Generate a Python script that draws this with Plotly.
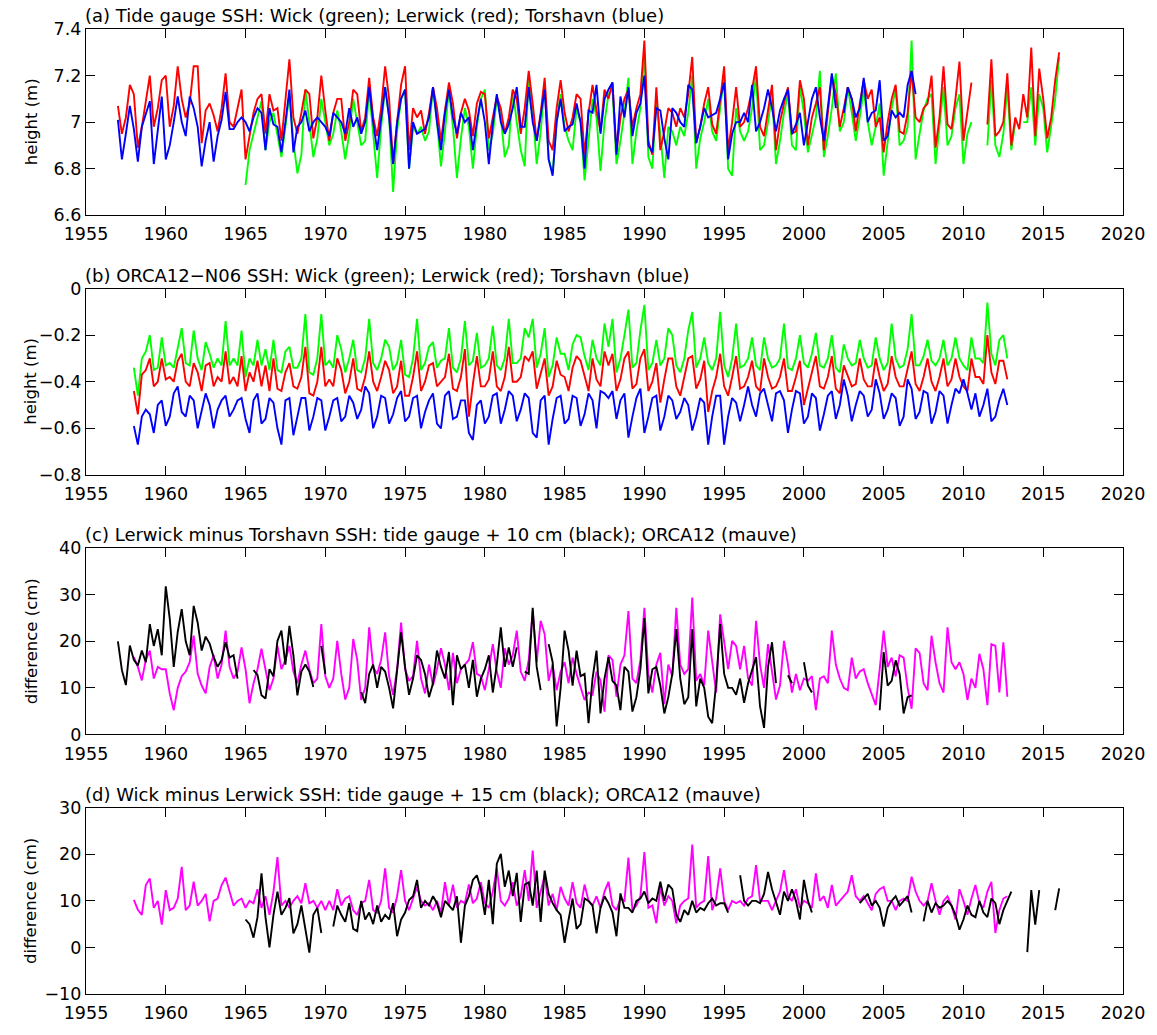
import plotly.graph_objects as go

# ---------------- DATA (quarterly samples) ----------------
years_ticks = [1955, 1960, 1965, 1970, 1975, 1980, 1985, 1990, 1995, 2000, 2005, 2010, 2015, 2020]
year_labels = [str(y) for y in years_ticks]

a_ticks = [6.6, 6.8, 7.0, 7.2, 7.4]
a_labels = ["6.6", "6.8", "7", "7.2", "7.4"]
b_ticks = [-0.8, -0.6, -0.4, -0.2, 0.0]
b_labels = ["\u22120.8", "\u22120.6", "\u22120.4", "\u22120.2", "0"]
c_ticks = [0, 10, 20, 30, 40]
c_labels = ["0", "10", "20", "30", "40"]
d_ticks = [-10, 0, 10, 20, 30]
d_labels = ["\u221210", "0", "10", "20", "30"]

step = 0.25  # quarterly samples

# (a) tide gauge SSH (m)
a_red_start = 1957.0
a_red = [
    7.07, 6.95, 7.02, 7.16,  7.12, 6.89, 6.98, 7.10,  7.20, 6.98, 7.06, 7.18,  7.20, 6.98, 7.07, 7.24,
    7.10, 7.02, 7.08, 7.24,  7.24, 6.91, 7.05, 7.08,  7.03, 6.96, 7.06, 7.21,  7.00, 6.98, 7.06, 7.14,
    6.84, 6.95, 7.04, 7.10,  7.12, 6.95, 7.12, 7.05,  7.06, 6.92, 7.10, 7.27,  7.02, 6.95, 7.04, 7.14,
    7.12, 6.93, 7.02, 7.20,  7.05, 6.92, 7.04, 7.10,  7.10, 6.92, 7.00, 7.14,  7.12, 6.96, 7.02, 7.19,
    7.02, 6.94, 7.06, 7.24,  7.10, 6.82, 7.00, 7.16,  7.24, 6.88, 7.06, 7.02,  7.05, 6.95, 7.04, 7.15,
    7.06, 6.92, 7.05, 7.17,  7.08, 6.93, 7.04, 7.10,  7.05, 6.94, 7.08, 7.13,  7.12, 6.93, 7.02, 7.11,
    7.06, 6.95, 7.02, 7.14,  7.10, 6.95, 7.06, 7.22,  7.08, 6.92, 7.04, 7.19,  6.92, 6.88, 7.06, 7.18,
    7.04, 6.96, 7.02, 7.12,  7.10, 6.86, 7.04, 7.16,  7.05, 6.96, 7.14, 7.10,  7.17, 6.87, 7.02, 7.10,
    7.14, 6.98, 7.06, 7.12,  7.35, 6.92, 6.86, 7.15,  6.88, 6.96, 7.06, 7.04,  6.98, 7.06, 7.02, 7.12,
    7.28, 6.91, 6.98, 7.08,  7.15, 6.99, 6.95, 7.10,  7.24, 6.88, 7.00, 7.15,  6.98, 7.00, 7.06, 7.14,
    7.24, 6.98, 6.94, 7.05,  7.16, 6.88, 7.00, 7.08,  7.15, 6.95, 6.96, 7.18,  7.10, 6.90, 7.02, 7.08,
    7.15, 6.88, 7.04, 7.20,  7.12, 6.98, 7.06, 7.15,  7.10, 6.96, 7.08, 7.18,  7.10, 7.14, 6.98, 7.02,
    6.87, 7.00, 7.10, 7.16,  6.96, 6.95, 7.04, 7.22,  7.02, 7.00, 7.06, 7.08,  7.20, 6.89, 7.02, 7.24,
    6.99, 6.97, 7.10, 7.26,  6.92, 7.04, 7.17, None,  None, None, 6.99, 7.27,  6.94, 6.96, 7.00, 7.21,
    6.90, 7.02, 6.97, 7.12,  7.02, 7.32, 6.94, 7.23,  7.10, 6.93, 7.02, 7.18,  7.30,
]
a_green_start = 1965.0
a_green = [
    6.73, 6.88, 6.95, 7.02,  7.09, 6.88, 7.00, 7.04,  6.95, 6.85, 6.98, 7.12,  6.92, 6.78, 6.86, 7.14,
    7.00, 6.85, 6.93, 7.10,  7.00, 6.90, 6.95, 7.05,  6.96, 6.84, 6.95, 7.10,  7.00, 6.90, 6.92, 7.14,
    6.95, 6.76, 6.98, 7.15,  7.02, 6.70, 6.96, 7.10,  7.14, 6.80, 6.98, 6.95,  6.98, 6.92, 6.96, 7.15,
    7.00, 6.81, 6.96, 7.14,  6.98, 6.76, 6.93, 7.06,  6.98, 6.80, 6.98, 7.10,  7.14, 6.88, 6.95, 7.10,
    7.02, 6.85, 6.90, 7.14,  7.00, 6.88, 6.81, 7.20,  7.05, 6.82, 6.96, 7.16,  6.84, 6.78, 7.00, 7.12,
    6.98, 6.92, 6.88, 7.06,  7.00, 6.75, 6.92, 7.10,  7.02, 6.79, 7.00, 7.12,  7.14, 6.82, 6.92, 7.04,
    7.19, 6.82, 6.96, 7.06,  7.30, 6.85, 6.80, 7.10,  6.95, 6.76, 6.98, 6.96,  6.90, 6.98, 6.94, 7.04,
    7.20, 6.80, 6.93, 7.00,  7.10, 6.96, 6.92, 7.06,  7.20, 6.80, 6.77, 7.06,  6.96, 6.92, 6.96, 7.06,
    7.20, 6.88, 6.90, 7.00,  7.12, 6.82, 6.92, 7.04,  7.12, 6.90, 6.88, 7.15,  7.04, 6.87, 6.95, 7.02,
    7.22, 6.85, 6.94, 7.06,  7.21, 6.96, 7.00, 7.15,  7.04, 6.92, 7.02, 7.14,  7.00, 6.90, 6.98, 7.08,
    6.77, 6.92, 7.06, 7.14,  6.90, 6.92, 6.98, 7.35,  6.84, 6.95, 7.05, 7.10,  7.12, 6.82, 6.98, 7.15,
    6.90, 6.94, 7.06, 7.12,  6.82, 6.95, 7.00, None,  None, None, 6.90, 7.18,  6.90, 6.85, 6.95, 7.15,
    6.88, 7.00, None, 7.00,  7.00, 7.15, 6.90, 7.12,  7.06, 6.87, 6.98, 7.10,  7.28,
]
a_blue_start = 1957.0
a_blue = [
    7.01, 6.84, 6.95, 7.07,  6.97, 6.83, 6.98, 7.04,  7.09, 6.82, 6.98, 7.11,  6.84, 6.90, 7.00, 7.11,
    7.00, 6.94, 7.11, 7.06,  6.98, 6.81, 6.92, 7.00,  6.83, 6.94, 7.01, 7.13,  6.97, 6.97, 7.00, 7.02,
    7.00, 6.96, 7.02, 7.06,  7.04, 6.88, 7.06, 6.99,  6.98, 6.87, 7.00, 7.14,  6.87, 6.98, 7.00, 7.05,
    6.96, 7.00, 7.02, 7.00,  6.98, 6.94, 7.04, 7.02,  7.00, 6.95, 7.06, 6.98,  7.02, 6.95, 7.00, 7.15,
    7.00, 6.88, 7.01, 7.15,  7.02, 6.82, 7.00, 7.10,  7.14, 6.80, 7.00, 6.95,  6.96, 6.97, 7.02, 7.15,
    7.00, 6.88, 7.04, 7.14,  7.02, 6.95, 7.04, 7.00,  7.02, 6.88, 7.00, 7.10,  7.00, 6.82, 6.99, 7.12,
    7.00, 6.95, 6.99, 7.06,  7.15, 6.98, 6.98, 7.15,  7.00, 6.92, 7.03, 7.14,  6.84, 6.77, 7.00, 7.10,
    6.96, 6.98, 6.99, 7.08,  7.00, 6.80, 7.05, 7.04,  7.16, 6.95, 7.10, 7.14,  7.17, 6.86, 7.11, 7.02,
    7.15, 6.94, 7.04, 7.08,  7.20, 6.90, 6.87, 7.06,  7.05, 6.93, 6.84, 7.06,  7.04, 7.00, 6.98, 7.16,
    7.14, 6.91, 6.98, 7.06,  7.02, 7.03, 7.04, 7.10,  7.17, 6.84, 6.95, 7.00,  7.00, 7.04, 7.00, 7.16,
    6.96, 7.00, 7.06, 7.14,  7.06, 6.96, 7.05, 7.10,  7.14, 6.95, 6.99, 7.04,  6.90, 7.00, 7.10, 7.15,
    7.02, 6.92, 7.06, 7.21,  7.06, None, 7.04, 7.15,  7.10, 7.02, 7.06, 7.19,  7.00, 7.04, 7.05, 7.18,
    6.92, 6.94, 7.05, 7.02,  7.04, 7.02, 7.16, 7.22,  7.12,
]

# (b) ORCA12-N06 SSH (m)
b_start = 1958.0
b_green = [
    -0.34, -0.46, -0.30, -0.27,  -0.20, -0.35, -0.34, -0.21,  -0.33, -0.32, -0.34, -0.25,  -0.17, -0.32, -0.33, -0.18,
    -0.30, -0.35, -0.23, -0.28,  -0.34, -0.30, -0.33, -0.14,  -0.33, -0.30, -0.33, -0.18,  -0.38, -0.30, -0.33, -0.22,
    -0.33, -0.26, -0.35, -0.22,  -0.35, -0.36, -0.27, -0.25,  -0.34, -0.34, -0.30, -0.11,  -0.36, -0.37, -0.30, -0.11,
    -0.33, -0.31, -0.34, -0.20,  -0.26, -0.36, -0.30, -0.22,  -0.35, -0.36, -0.30, -0.13,  -0.32, -0.35, -0.30, -0.22,
    -0.25, -0.35, -0.32, -0.22,  -0.37, -0.38, -0.30, -0.13,  -0.35, -0.32, -0.25, -0.23,  -0.34, -0.31, -0.30, -0.17,
    -0.34, -0.36, -0.30, -0.14,  -0.33, -0.31, -0.19, -0.34,  -0.33, -0.30, -0.16, -0.33,  -0.35, -0.30, -0.13, -0.32,
    -0.32, -0.30, -0.17, -0.21,  -0.13, -0.34, -0.28, -0.17,  -0.38, -0.33, -0.21, -0.28,  -0.28, -0.35, -0.24, -0.20,
    -0.21, -0.29, -0.35, -0.22,  -0.30, -0.33, -0.15, -0.25,  -0.13, -0.36, -0.30, -0.20,  -0.09, -0.34, -0.32, -0.18,
    -0.07, -0.35, -0.32, -0.22,  -0.33, -0.30, -0.17, -0.20,  -0.33, -0.36, -0.30, -0.18,  -0.10, -0.34, -0.30, -0.21,
    -0.32, -0.35, -0.30, -0.10,  -0.33, -0.38, -0.30, -0.15,  -0.34, -0.33, -0.30, -0.21,  -0.33, -0.35, -0.21, -0.30,
    -0.34, -0.33, -0.30, -0.15,  -0.34, -0.35, -0.30, -0.20,  -0.32, -0.34, -0.28, -0.19,  -0.33, -0.34, -0.30, -0.20,
    -0.34, -0.36, -0.24, -0.30,  -0.33, -0.32, -0.22, -0.30,  -0.34, -0.33, -0.21, -0.30,  -0.35, -0.32, -0.15, -0.30,
    -0.34, -0.33, -0.26, -0.11,  -0.33, -0.33, -0.29, -0.22,  -0.31, -0.33, -0.30, -0.22,  -0.33, -0.30, -0.21, -0.30,
    -0.33, -0.35, -0.21, -0.30,  -0.30, -0.32, -0.06, -0.28,  -0.33, -0.22, -0.20, -0.30,
]
b_red = [
    -0.44, -0.54, -0.37, -0.35,  -0.30, -0.42, -0.40, -0.30,  -0.39, -0.38, -0.40, -0.31,  -0.28, -0.40, -0.42, -0.32,
    -0.36, -0.44, -0.33, -0.32,  -0.42, -0.38, -0.40, -0.27,  -0.41, -0.38, -0.42, -0.29,  -0.44, -0.36, -0.40, -0.31,
    -0.42, -0.33, -0.44, -0.30,  -0.43, -0.44, -0.36, -0.32,  -0.42, -0.43, -0.38, -0.25,  -0.45, -0.46, -0.40, -0.25,
    -0.42, -0.39, -0.42, -0.30,  -0.35, -0.45, -0.40, -0.30,  -0.43, -0.44, -0.38, -0.27,  -0.40, -0.44, -0.38, -0.31,
    -0.35, -0.45, -0.42, -0.31,  -0.46, -0.46, -0.38, -0.27,  -0.44, -0.40, -0.33, -0.32,  -0.42, -0.40, -0.38, -0.28,
    -0.43, -0.44, -0.38, -0.26,  -0.55, -0.41, -0.29, -0.42,  -0.42, -0.39, -0.27, -0.42,  -0.44, -0.38, -0.25, -0.40,
    -0.40, -0.38, -0.29, -0.31,  -0.27, -0.43, -0.37, -0.30,  -0.46, -0.42, -0.31, -0.37,  -0.38, -0.44, -0.34, -0.29,
    -0.31, -0.38, -0.44, -0.30,  -0.39, -0.42, -0.27, -0.33,  -0.28, -0.44, -0.39, -0.30,  -0.27, -0.43, -0.41, -0.30,
    -0.26, -0.44, -0.40, -0.32,  -0.49, -0.39, -0.30, -0.30,  -0.42, -0.46, -0.38, -0.30,  -0.29, -0.43, -0.39, -0.31,
    -0.53, -0.44, -0.38, -0.28,  -0.42, -0.46, -0.38, -0.29,  -0.43, -0.42, -0.38, -0.31,  -0.42, -0.44, -0.30, -0.38,
    -0.43, -0.42, -0.38, -0.30,  -0.44, -0.44, -0.38, -0.31,  -0.50, -0.43, -0.37, -0.29,  -0.42, -0.43, -0.38, -0.29,
    -0.43, -0.45, -0.33, -0.38,  -0.42, -0.41, -0.30, -0.39,  -0.42, -0.42, -0.30, -0.38,  -0.44, -0.41, -0.29, -0.38,
    -0.42, -0.42, -0.35, -0.27,  -0.41, -0.44, -0.38, -0.30,  -0.40, -0.44, -0.38, -0.30,  -0.42, -0.39, -0.30, -0.38,
    -0.42, -0.44, -0.30, -0.38,  -0.38, -0.41, -0.20, -0.36,  -0.41, -0.31, -0.31, -0.39,
]
b_blue = [
    -0.59, -0.67, -0.55, -0.52,  -0.54, -0.62, -0.50, -0.48,  -0.59, -0.55, -0.45, -0.42,  -0.53, -0.55, -0.46, -0.48,
    -0.60, -0.52, -0.45, -0.50,  -0.60, -0.52, -0.48, -0.46,  -0.55, -0.52, -0.48, -0.47,  -0.56, -0.62, -0.48, -0.45,
    -0.58, -0.56, -0.47, -0.49,  -0.60, -0.67, -0.48, -0.47,  -0.63, -0.55, -0.47, -0.47,  -0.61, -0.55, -0.47, -0.48,
    -0.61, -0.55, -0.48, -0.47,  -0.57, -0.55, -0.46, -0.49,  -0.56, -0.52, -0.42, -0.45,  -0.60, -0.55, -0.46, -0.47,
    -0.58, -0.54, -0.47, -0.44,  -0.57, -0.55, -0.47, -0.46,  -0.60, -0.53, -0.48, -0.45,  -0.58, -0.60, -0.46, -0.44,
    -0.56, -0.55, -0.48, -0.48,  -0.62, -0.65, -0.50, -0.48,  -0.58, -0.55, -0.46, -0.45,  -0.58, -0.52, -0.44, -0.46,
    -0.57, -0.52, -0.45, -0.47,  -0.62, -0.64, -0.48, -0.46,  -0.67, -0.56, -0.47, -0.46,  -0.58, -0.56, -0.46, -0.47,
    -0.59, -0.54, -0.45, -0.48,  -0.60, -0.44, -0.45, -0.47,  -0.44, -0.56, -0.48, -0.45,  -0.64, -0.55, -0.47, -0.43,
    -0.62, -0.55, -0.47, -0.46,  -0.61, -0.55, -0.46, -0.48,  -0.56, -0.53, -0.47, -0.50,  -0.61, -0.55, -0.47, -0.49,
    -0.67, -0.55, -0.46, -0.46,  -0.67, -0.55, -0.47, -0.49,  -0.57, -0.50, -0.42, -0.50,  -0.55, -0.45, -0.43, -0.50,
    -0.57, -0.45, -0.44, -0.48,  -0.62, -0.52, -0.44, -0.45,  -0.58, -0.55, -0.45, -0.47,  -0.61, -0.54, -0.46, -0.44,
    -0.56, -0.50, -0.39, -0.46,  -0.57, -0.50, -0.44, -0.46,  -0.55, -0.52, -0.39, -0.45,  -0.56, -0.52, -0.45, -0.47,
    -0.59, -0.55, -0.39, -0.43,  -0.56, -0.53, -0.44, -0.45,  -0.58, -0.53, -0.44, -0.46,  -0.58, -0.50, -0.43, -0.45,
    -0.39, -0.45, -0.52, -0.45,  -0.55, -0.50, -0.43, -0.57,  -0.55, -0.48, -0.43, -0.50,
]

# (c) Lerwick minus Torshavn (cm)
c_black_start = 1957.0
c_black = [
    20.0, 13.8, 10.6, 19.1,  16.0, 14.8, 18.0, 15.5,  23.7, 19.0, 22.6, 17.0,  31.8, 24.8, 14.5, 22.0,
    26.9, 20.0, 17.0, 27.6,  24.0, 18.0, 21.0, 19.5,  16.6, 14.5, 16.0, 19.8,  16.5, 17.0, 12.0, None,
    None, None, 13.8, 12.8,  8.4, 7.7, 14.0, 12.5,  20.1, 22.3, 15.0, 23.3,  17.0, 8.4, 13.5, 15.0,
    13.5, 10.2, None, 19.0,  13.0, None, None, None,  None, None, None, None,  None, 9.1, 6.7, 13.0,
    15.0, 10.0, 14.5, 13.5,  10.0, 5.6, 14.0, 21.9,  14.5, 8.5, 12.0, 17.0,  16.0, 13.0, 8.0, 11.0,
    18.0, 14.5, 12.0, 17.7,  6.3, 17.0, 14.0, 15.0,  10.0, 16.0, 8.1, 12.0,  14.0, 17.0, 9.0, 15.0,
    23.0, 14.5, 18.7, 14.5,  18.7, None, 13.5, 13.0,  27.2, 14.5, 9.5, None,  19.4, 15.5, 1.7, 10.0,
    22.3, 18.0, 10.5, 18.0,  12.5, 13.0, 2.4, 12.0,  18.0, 4.5, 12.0, 16.6,  11.5, 10.5, 5.2, 14.5,
    13.5, 4.9, 8.0, 14.0,  25.0, 8.8, 14.0, 14.5,  10.5, 4.5, 8.0, 13.0,  22.6, 12.0, 6.5, 8.0,
    22.6, 6.0, 12.0, 10.0,  3.8, 2.4, 11.0, 23.7,  13.0, 10.0, 10.0, 8.5,  12.0, 6.8, 11.0, 14.0,
    16.6, 6.0, 1.4, 14.5,  19.8, 11.0, None, None,  12.7, 11.0, None, None,  15.5, 10.5, 9.0, None,
    None, 8.0, None, None,  None, None, None, None,  None, None, None, 8.5,  None, None, None, 5.2,
    17.7, 10.5, 11.5, 15.9,  13.0, 4.5, 8.0, 8.4,
]
c_mauve_start = 1958.0
c_mauve = [
    16.6, 14.5, 11.6, 16.0,  18.0, 12.0, 14.5, 14.0,  14.0, 8.8, 5.2, 10.0,  12.5, 13.5, 15.5, 21.2,
    13.0, 10.5, 8.8, 14.5,  17.0, 12.0, 15.0, 22.3,  14.5, 12.0, 13.5, 18.7,  14.0, 6.7, 11.0, 14.0,
    18.4, 14.0, 9.5, 12.0,  19.0, 14.0, 16.0, 19.0,  13.5, 11.0, 15.0, 18.0,  14.0, 11.0, 12.0, 23.7,
    12.5, 10.0, 12.0, 20.1,  13.0, 7.5, 10.0, 20.5,  16.0, 7.4, 10.0, 23.0,  14.5, 13.0, 16.0, 21.9,
    12.5, 8.5, 14.0, 24.0,  14.0, 11.5, 12.5, 20.1,  12.0, 8.8, 15.0, 10.5,  14.0, 18.5, 15.0, 9.5,
    17.5, 11.0, 14.0, 15.0,  16.0, 19.8, 13.0, 12.5,  9.5, 14.0, 19.4, 13.5,  10.0, 18.5, 15.0, 17.0,
    22.3, 13.5, 11.5, 16.0,  26.5, 15.5, 24.4, 21.5,  11.5, 15.0, 9.5, 13.5,  15.5, 11.0, 16.5, 13.0,
    10.0, 7.4, 9.0, 8.5,  13.5, 11.6, 4.9, 17.0,  16.0, 8.1, 15.0, 17.0,  26.5, 12.0, 11.0, 16.0,
    27.2, 13.0, 9.0, 15.0,  17.5, 6.5, 15.0, 12.5,  27.2, 15.0, 13.0, 14.0,  29.4, 11.5, 13.0, 10.5,
    22.3, 16.0, 9.0, 25.8,  19.5, 14.0, 20.1, 19.0,  14.0, 19.0, 12.0, 10.5,  24.4, 15.0, 10.0, 19.4,
    13.5, 7.5, 10.5, 20.1,  15.0, 9.0, 13.0, 9.5,  12.0, 11.5, 12.5, 5.2,  12.0, 12.5, 11.0, 22.3,
    15.0, 12.0, 10.0, 9.5,  16.5, 12.0, 13.5, 14.0,  11.0, 8.5, 6.3, 14.0,  22.3, 14.5, 16.5, 12.5,
    17.0, 16.5, 10.0, 5.5,  18.5, 17.5, 11.0, 9.5,  21.2, 15.5, 11.0, 9.0,  23.0, 15.5, 14.0, 15.5,
    13.0, 7.4, 12.0, 10.0,  17.3, 14.0, 6.3, 19.4,  19.0, 9.0, 19.8, 8.1,
]

# (d) Wick minus Lerwick (cm)
d_mauve_start = 1958.0
d_mauve = [
    10.2, 8.1, 7.0, 13.4,  14.8, 8.5, 10.0, 4.9,  12.3, 8.0, 8.5, 10.5,  17.3, 8.0, 9.0, 14.1,
    9.0, 10.0, 11.5, 5.6,  10.0, 10.5, 13.4, 15.0,  12.0, 9.0, 10.0, 10.5,  8.5, 10.0, 9.5, 12.5,
    8.5, 11.0, 7.0, 12.0,  19.4, 9.0, 10.0, 8.5,  10.0, 11.0, 9.5, 13.8,  9.5, 10.0, 8.5, 10.0,
    8.0, 10.0, 8.0, 12.5,  9.0, 10.5, 11.0, 8.0,  7.0, 9.5, 10.0, 14.5,  8.0, 7.5, 10.0, 17.0,
    8.5, 7.5, 11.0, 16.6,  10.0, 8.0, 10.5, 13.0,  10.0, 9.0, 9.5, 8.0,  10.0, 7.5, 14.0, 9.0,
    13.5, 8.5, 10.0, 9.5,  13.5, 9.5, 10.5, 14.0,  9.5, 8.5, 12.0, 17.0,  10.0, 9.0, 10.5, 14.0,
    9.0, 11.0, 16.6, 10.0,  20.8, 8.5, 12.0, 15.5,  9.0, 11.5, 8.0, 13.0,  10.5, 9.0, 14.0, 9.5,
    8.5, 13.5, 10.0, 9.0,  11.0, 8.5, 12.0, 14.1,  9.0, 8.0, 10.5, 10.0,  19.3, 8.0, 9.0, 11.0,
    20.5, 8.5, 9.0, 5.2,  13.0, 9.0, 11.0, 10.0,  5.2, 9.0, 10.0, 10.5,  22.1, 8.5, 9.5, 10.0,
    19.6, 8.0, 10.5, 17.0,  10.0, 8.0, 10.0, 9.5,  10.0, 9.0, 10.5, 11.0,  17.7, 10.0, 10.0, 10.0,
    8.0, 10.0, 12.0, 16.6,  11.0, 10.0, 12.5, 8.5,  10.0, 9.5, 8.5, 15.9,  10.0, 11.0, 8.5, 13.4,
    9.0, 10.0, 11.0, 12.0,  15.5, 11.0, 10.0, 11.0,  9.5, 8.0, 11.5, 12.5,  13.0, 10.0, 10.0, 8.0,
    10.0, 10.5, 10.0, 15.2,  12.0, 10.0, 9.0, 10.0,  13.8, 10.0, 7.0, 10.0,  11.0, 9.0, 6.0, 12.5,
    10.0, 7.0, 10.5, 13.4,  9.5, 8.5, 12.0, 14.1,  3.1, 8.0, 10.5, 11.0,
]
d_black_start = 1965.0
d_black = [
    6.0, 5.0, 2.1, 6.5,  15.9, 6.5, 0.0, 7.0,  12.0, 7.0, 8.5, 10.6,  3.0, 5.0, 9.0, 4.0,
    -1.1, 7.0, 8.5, 3.1,  None, None, 4.5, 9.0,  7.0, 5.5, 9.5, 4.0,  3.5, 10.0, 6.0, 7.5,
    5.0, 9.0, 5.5, 7.0,  6.0, 9.5, 2.4, 6.0,  7.5, 10.2, 11.0, 14.5,  8.5, 10.0, 9.0, 11.0,
    9.5, 6.5, 10.0, 9.0,  8.0, 11.0, 1.0, 9.0,  11.0, 14.5, 15.5, 12.5,  7.0, 14.5, 5.0, 18.0,
    20.1, 13.0, 16.5, 11.0,  16.0, 5.5, 13.5, 14.0,  9.0, 16.5, 5.5, 16.5,  11.5, 9.5, 8.0, 7.0,
    1.0, 6.0, 10.5, 4.0,  5.0, 10.5, 10.0, 9.0,  3.0, 8.5, 11.0, 9.5,  7.5, 2.4, 11.6, 8.5,
    8.5, 7.5, 10.0, 10.5,  12.0, 9.5, 10.5, 10.0,  14.1, 10.0, 13.5, 12.5,  7.0, 5.5, 8.0, 7.0,
    10.0, 7.5, 8.5, 8.0,  9.5, 10.5, 9.0, 9.5,  9.5, 7.5, None, None,  15.5, 10.0, 9.0, 10.0,
    10.0, 9.5, 11.5, 16.2,  12.5, 9.5, 7.0, 12.0,  10.0, 12.5, 10.0, 6.0,  14.5, 10.0, 7.5, None,
    None, None, None, None,  None, None, None, None,  None, None, 9.5, 10.5,  11.5, 9.0, 10.0, 8.5,
    4.5, 8.5, 10.0, 11.0,  9.0, 10.0, 11.0, 7.5,  None, None, 5.6, 10.0,  7.5, 9.5, 8.5, 9.0,
    10.0, 9.0, 7.0, 3.8,  6.0, 9.0, 7.0, 6.5,  10.0, 7.5, 6.5, 10.5,  9.5, 5.0, 8.0, 10.0,
    12.0, None, None, None,  -1.0, 12.3, 4.9, 12.3,  None, 8.7, None, 8.0,  12.7,
]

titles = [
    "(a) Tide gauge SSH: Wick (green); Lerwick (red); Torshavn (blue)",
    "(b) ORCA12\u2212N06 SSH: Wick (green); Lerwick (red); Torshavn (blue)",
    "(c) Lerwick minus Torshavn SSH: tide gauge + 10 cm (black); ORCA12 (mauve)",
    "(d) Wick minus Lerwick SSH: tide gauge + 15 cm (black); ORCA12 (mauve)",
]
ytitles = ["height (m)", "height (m)", "difference (cm)", "difference (cm)"]

# ---------------- FIGURE ----------------
W, H = 1157, 1035
ML, MR, MT, MB = 86, 33, 29, 32
PLOT_H = H - MT - MB          # 974
PANEL_H = 188
PANEL_PITCH = 262

GREEN, RED, BLUE, MAUVE, BLACK = "#00ff00", "#ff0000", "#0000ff", "#ff00ff", "#000000"
FONT = "DejaVu Sans"
LW = 1.9
TICK_FS = 17.5
TITLE_FS = 18

fig = go.Figure()


def add(y, start, color, axis_idx):
    sfx = "" if axis_idx == 1 else str(axis_idx)
    fig.add_trace(go.Scatter(
        y=y, x0=start, dx=step, mode="lines",
        line=dict(color=color, width=LW),
        xaxis="x" + sfx, yaxis="y" + sfx, showlegend=False,
        connectgaps=False, hoverinfo="skip",
    ))


add(a_green, a_green_start, GREEN, 1)
add(a_red, a_red_start, RED, 1)
add(a_blue, a_blue_start, BLUE, 1)
add(b_green, b_start, GREEN, 2)
add(b_red, b_start, RED, 2)
add(b_blue, b_start, BLUE, 2)
add(c_mauve, c_mauve_start, MAUVE, 3)
add(c_black, c_black_start, BLACK, 3)
add(d_mauve, d_mauve_start, MAUVE, 4)
add(d_black, d_black_start, BLACK, 4)

yranges = [(6.6, 7.4), (-0.8, 0.0), (0, 40), (-10, 30)]
yticks = [(a_ticks, a_labels), (b_ticks, b_labels), (c_ticks, c_labels), (d_ticks, d_labels)]

layout = dict(
    width=W, height=H,
    margin=dict(l=ML, r=MR, t=MT, b=MB, pad=0),
    paper_bgcolor="white", plot_bgcolor="white",
    font=dict(family=FONT, size=16, color="black"),
    showlegend=False,
)
annotations = []
for i in range(4):
    top_px = i * PANEL_PITCH
    dom_top = 1 - top_px / PLOT_H
    dom_bot = 1 - (top_px + PANEL_H) / PLOT_H
    sfx = "" if i == 0 else str(i + 1)
    layout["xaxis" + sfx] = dict(
        range=[1955, 2020], domain=[0, 1], anchor="y" + sfx,
        tickmode="array", tickvals=years_ticks, ticktext=year_labels,
        ticks="inside", ticklen=9, tickwidth=1, tickcolor="black",
        showline=True, linecolor="black", linewidth=1.3, mirror="ticks",
        showgrid=False, zeroline=False, tickfont=dict(family=FONT, size=TICK_FS),
        ticklabelstandoff=3,
    )
    tv, tt = yticks[i]
    layout["yaxis" + sfx] = dict(
        range=list(yranges[i]), domain=[dom_bot, dom_top], anchor="x" + sfx,
        tickmode="array", tickvals=tv, ticktext=tt,
        ticks="inside", ticklen=9, tickwidth=1, tickcolor="black",
        showline=True, linecolor="black", linewidth=1.3, mirror="ticks",
        showgrid=False, zeroline=False, tickfont=dict(family=FONT, size=TICK_FS),
    )
    annotations.append(dict(
        text=titles[i], x=0, y=dom_top, xref="paper", yref="paper",
        xanchor="left", yanchor="bottom", xshift=-3, yshift=1, showarrow=False,
        font=dict(family=FONT, size=TITLE_FS, color="black"),
    ))
    annotations.append(dict(
        text=ytitles[i], x=(31 - ML) / (W - ML - MR), y=(dom_top + dom_bot) / 2,
        xref="paper", yref="paper", xanchor="center", yanchor="middle",
        textangle=-90, showarrow=False,
        font=dict(family=FONT, size=16.5, color="black"),
    ))
layout["annotations"] = annotations
fig.update_layout(**layout)

fig.write_html(
    "out.html",
    config={"displayModeBar": False},
    post_script="document.body.style.margin='0';document.body.style.overflow='hidden';",
)
